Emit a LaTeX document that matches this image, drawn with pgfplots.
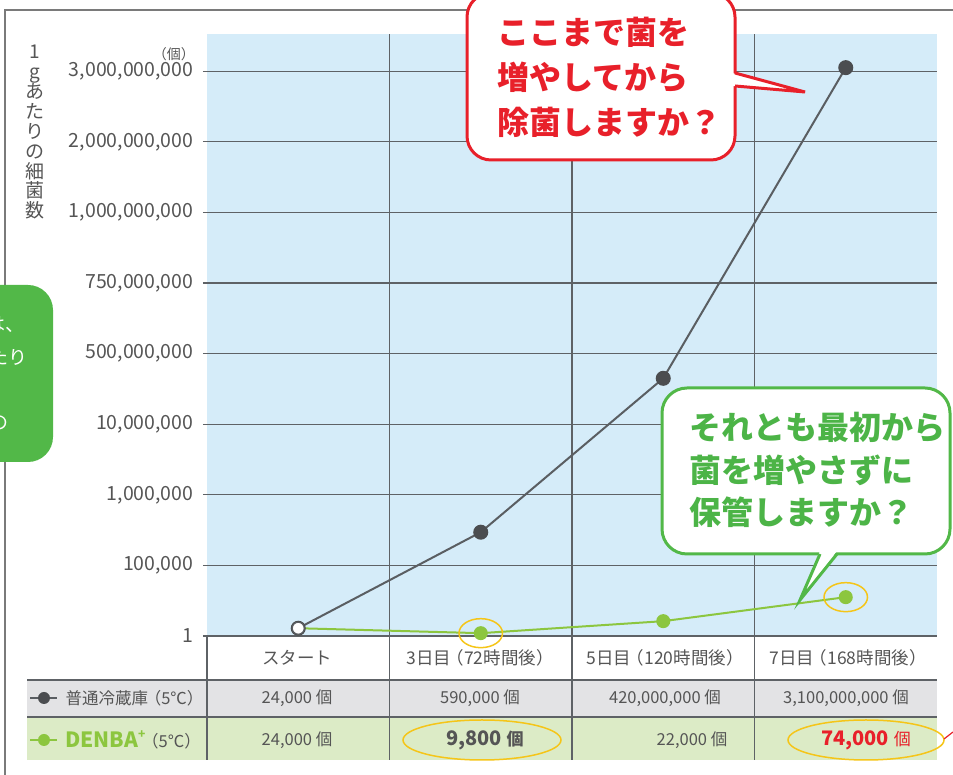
\documentclass[border=0pt]{standalone}
\usepackage{pgfplots}
\pgfplotsset{compat=1.18}
\usepackage{pgfplotstable}
\usepackage{fontspec}
\setmainfont{Noto Sans CJK JP}
\definecolor{bluebg}{HTML}{D5ECF9}
\definecolor{gridgray}{HTML}{5E6266}
\definecolor{framegray}{HTML}{7A7A7A}
\definecolor{dline}{HTML}{5A5E62}
\definecolor{dmark}{HTML}{4B4D50}
\definecolor{lgreen}{HTML}{8CC63F}
\definecolor{bred}{HTML}{E8202A}
\definecolor{bgreen}{HTML}{52B848}
\definecolor{tgreen}{HTML}{4CB447}
\definecolor{gold}{HTML}{F5C518}
\definecolor{tgray}{HTML}{E3E3E5}
\definecolor{tgreenbg}{HTML}{DCEBC6}
\definecolor{txtgray}{HTML}{555555}

\pgfplotstableread{
x y
0 0.11
1 1.47
2 3.65
3 8.05
}\futsuu
\pgfplotstableread{
x y
0 0.11
1 0.04
2 0.21
3 0.55
}\denba
\pgfplotstableread{
x y
0 0.11
}\startpt
\pgfplotstableread{
x y
1 0.04
3 0.55
}\rings

\begin{document}
\begin{tikzpicture}
\useasboundingbox (0pt,0pt) rectangle (953pt,775pt);
\clip (0pt,0pt) rectangle (953pt,775pt);
\begin{scope}[x=1pt,y=1pt]
% outer frame
\draw[line width=1.5, framegray] (5,-5) -- (5,765) -- (960,765);
% table backgrounds
\fill[tgray] (27,58) rectangle (937,95);
\fill[tgreenbg] (27,15) rectangle (937,58);
\end{scope}

\begin{axis}[
  at={(207pt,139pt)}, anchor=south west, scale only axis,
  width=730pt, height=602pt,
  xmin=-0.5, xmax=3.5, ymin=0, ymax=8.527,
  xtick={0.5,1.5,2.5}, xticklabels={}, xmajorgrids,
  ytick={0,1,2,3,4,5,6,7,8},
  yticklabels={{1},{100,000},{1,000,000},{10,000,000},{500,000,000},{750,000,000},{1,000,000,000},{2,000,000,000},{3,000,000,000}},
  ymajorgrids,
  grid style={line width=1.2pt, gridgray},
  tick pos=left, tick align=outside, major tick length=4pt,
  ytick style={line width=1.2pt, gridgray},
  xtick style={draw=none},
  axis line style={draw=none},
  axis background/.style={fill=bluebg},
  yticklabel style={font=\fontsize{19.5}{24}\selectfont, text=txtgray, xshift=-6pt},
  clip=false,
]
\addplot[lgreen, line width=2pt, mark=*, mark size=6pt, mark options={fill=lgreen, draw=lgreen}] table {\denba};
\addplot[dline, line width=2pt, mark=*, mark size=6.5pt, mark options={fill=dmark, draw=dmark}] table {\futsuu};
\addplot[only marks, mark=*, mark size=6pt, mark options={fill=white, draw=dline, line width=1.2pt}] table {\startpt};
\addplot[only marks, mark=o, mark size=14.5pt, mark options={xscale=1.5, draw=gold, line width=1.5pt}] table {\rings};
\end{axis}

\begin{scope}[x=1pt,y=1pt]
% vertical lines extending into the table
\foreach \xx in {207,389.5,572,754.5} \draw[line width=1.2pt, gridgray] (\xx,139) -- (\xx,15);
\draw[line width=1.2pt, gridgray] (27,95) -- (937,95);
\draw[line width=1.2pt, gridgray] (27,58) -- (937,58);

% header labels
\begin{scope}[every node/.style={font=\fontsize{17.5}{20}\selectfont, text=txtgray}]
\node at (297,117) {スタート};
\node at (480,117) {3日目\kern-0.25em（72時間後）};
\node at (665,117) {5日目\kern-0.25em（120時間後）};
\node at (848,117) {7日目\kern-0.25em（168時間後）};
\end{scope}

% value rows
\begin{scope}[every node/.style={font=\fontsize{16.5}{20}\selectfont, text=txtgray}]
\node at (297,77) {24,000 個};
\node at (480,77) {590,000 個};
\node at (665,77) {420,000,000 個};
\node at (846,77) {3,100,000,000 個};
\node at (297,35) {24,000 個};
\node at (692,35) {22,000 個};
\end{scope}
\node[text=txtgray] at (485,35) {\fontsize{20}{24}\selectfont\bfseries 9,800 \fontsize{17}{20}\selectfont 個};
\node[text=bred] at (866,35) {\fontsize{20}{24}\selectfont\bfseries 74,000 \fontsize{17}{20}\mdseries\selectfont 個};
\draw[gold, line width=1.5pt] (482,35) ellipse (79 and 20);
\draw[gold, line width=1.5pt] (866,35) ellipse (78 and 20);
\draw[bred, line width=1.2pt] (944,36) -- (953,43);

% legend labels in table
\draw[dline, line width=2pt] (30,77) -- (57,77);
\fill[dmark] (44,77) circle (6);
\node[anchor=west, text=txtgray, font=\fontsize{16.5}{20}\selectfont] at (62,77) {普通冷蔵庫\kern-0.2em（5℃）};
\draw[lgreen, line width=2pt] (30,35) -- (57,35);
\fill[lgreen] (44,35) circle (6);
\node[anchor=west, inner sep=1pt] at (64,35) {\textcolor{lgreen}{\fontsize{21}{24}\selectfont\bfseries DENBA\raisebox{0.45em}{\fontsize{12}{12}\selectfont +}}\textcolor{txtgray}{\fontsize{16.5}{20}\selectfont\kern-0.2em（5℃）}};

% y axis title and unit
\node[text=txtgray, align=center, font=\fontsize{19}{19.8}\selectfont] at (35,643) {1\\g\\あ\\た\\り\\の\\細\\菌\\数};
\node[anchor=east, text=txtgray, font=\fontsize{14}{16}\selectfont, inner sep=0pt] at (195,721) {（個）};

% left green box
\fill[bgreen, rounded corners=25] (-40,313) rectangle (53,490);
\begin{scope}[every node/.style={anchor=east, text=white, font=\fontsize{19}{22}\selectfont, inner sep=0pt}]
\node at (25,450) {には、};
\node at (28,418) {あたり};
\node at (9,353) {までの};
\end{scope}

% red bubble
\draw[bred, line width=3pt, fill=white, rounded corners=24] (467,615) rectangle (735,782);
\fill[white] (732,702) -- (805,683) -- (732,689) -- cycle;
\draw[bred, line width=3pt, line join=miter] (735,702) -- (805,683) -- (735,689);
\node[anchor=west, align=left, text=bred, font=\fontsize{32}{45}\selectfont\bfseries, inner sep=0pt] at (497,698) {ここまで菌を\\増やしてから\\除菌しますか？};

% green bubble
\draw[bgreen, line width=3pt, fill=white, rounded corners=25] (662,221) rectangle (950,387);
\fill[white] (820,224) -- (800,175) -- (837,224) -- cycle;
\draw[bgreen, line width=3pt, line join=miter] (820,221) -- (800,175) -- (837,221);
\node[anchor=west, align=left, text=tgreen, font=\fontsize{32}{42.5}\selectfont\bfseries, inner sep=0pt] at (689,305) {それとも最初から\\菌を増やさずに\\保管しますか？};
\end{scope}
\end{tikzpicture}
\end{document}
